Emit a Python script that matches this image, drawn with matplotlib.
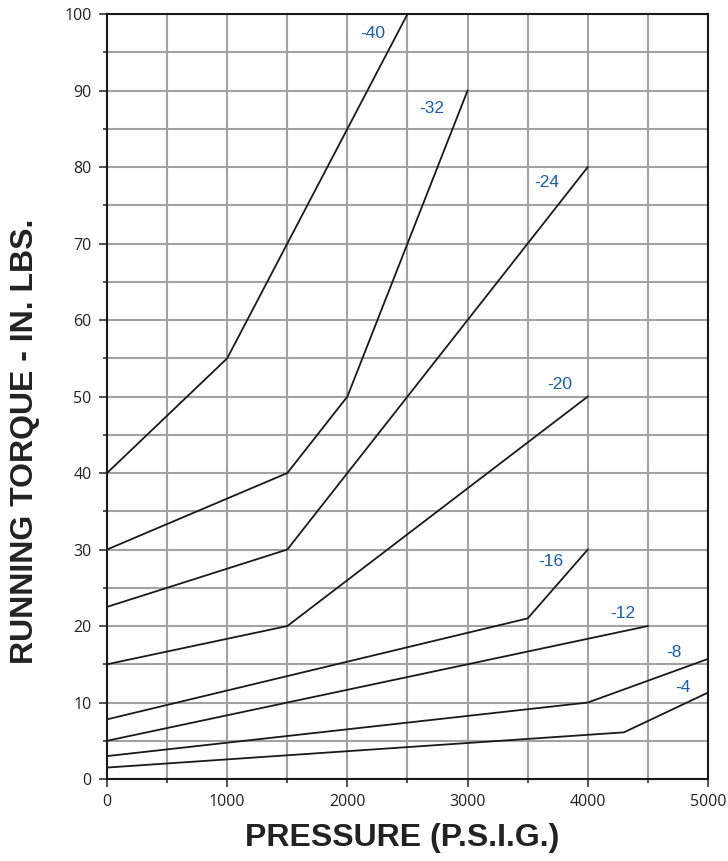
import matplotlib
matplotlib.use("Agg")
import matplotlib.pyplot as plt
from matplotlib.ticker import MultipleLocator

# Running torque curves per hose size (pressure psig, torque in-lbs)
sizes = ["-40", "-32", "-24", "-20", "-16", "-12", "-8", "-4"]
pressure = [
    [0, 1000, 2500],
    [0, 1500, 2000, 3000],
    [0, 1500, 4000],
    [0, 1500, 4000],
    [0, 3500, 4000],
    [0, 4500],
    [0, 4000, 5000],
    [0, 4300, 5000],
]
torque = [
    [40, 55, 100],
    [30, 40, 50, 90],
    [22.5, 30, 80],
    [15, 20, 50],
    [7.8, 21, 30],
    [5, 20],
    [3, 10, 15.7],
    [1.5, 6.1, 11.3],
]
# where the size labels sit
label_x = [2210, 2700, 3660, 3770, 3690, 4290, 4720, 4790]
label_y = [97.4, 87.7, 78.0, 51.6, 28.4, 21.7, 16.5, 12.0]

blue = "#1a5ca6"

fig = plt.figure(figsize=(7.28, 8.61), dpi=100)
ax = fig.add_axes([0.147, 0.0952, 0.8255, 0.8885])

for xs, ys in zip(pressure, torque):
    ax.plot(xs, ys, color="#1a1a1a", lw=1.3, zorder=3)

for s, lx, ly in zip(sizes, label_x, label_y):
    ax.text(lx, ly, s, color=blue, fontsize=12.5, ha="center", va="center",
            family=["Liberation Sans", "DejaVu Sans"], zorder=4)

ax.set_xlim(0, 5000)
ax.set_ylim(0, 100)
ax.xaxis.set_major_locator(MultipleLocator(1000))
ax.xaxis.set_minor_locator(MultipleLocator(500))
ax.yaxis.set_major_locator(MultipleLocator(10))
ax.yaxis.set_minor_locator(MultipleLocator(5))
ax.grid(True, which="both", color="#a2a2a2", lw=1.5, zorder=1)
ax.set_axisbelow(True)

for sp in ax.spines.values():
    sp.set_color("#1a1a1a")
    sp.set_linewidth(1.5)

ax.tick_params(which="major", length=6, width=1.2, color="#333333",
               labelsize=11.5, labelcolor="#222222", pad=5)
ax.tick_params(which="minor", length=3, width=1.2, color="#333333")
for lab in ax.get_xticklabels() + ax.get_yticklabels():
    lab.set_family("Open Sans")

fig.text(0.553, 0.0267, "PRESSURE (P.S.I.G.)", fontsize=23, fontweight="bold",
         family="Liberation Sans", color="#222222", ha="center", va="center")
fig.text(0.034, 0.4878, "RUNNING TORQUE - IN. LBS.", fontsize=23,
         fontweight="bold", family="Liberation Sans", color="#222222",
         ha="center", va="center", rotation=90)

fig.savefig("out.png", dpi=100)
